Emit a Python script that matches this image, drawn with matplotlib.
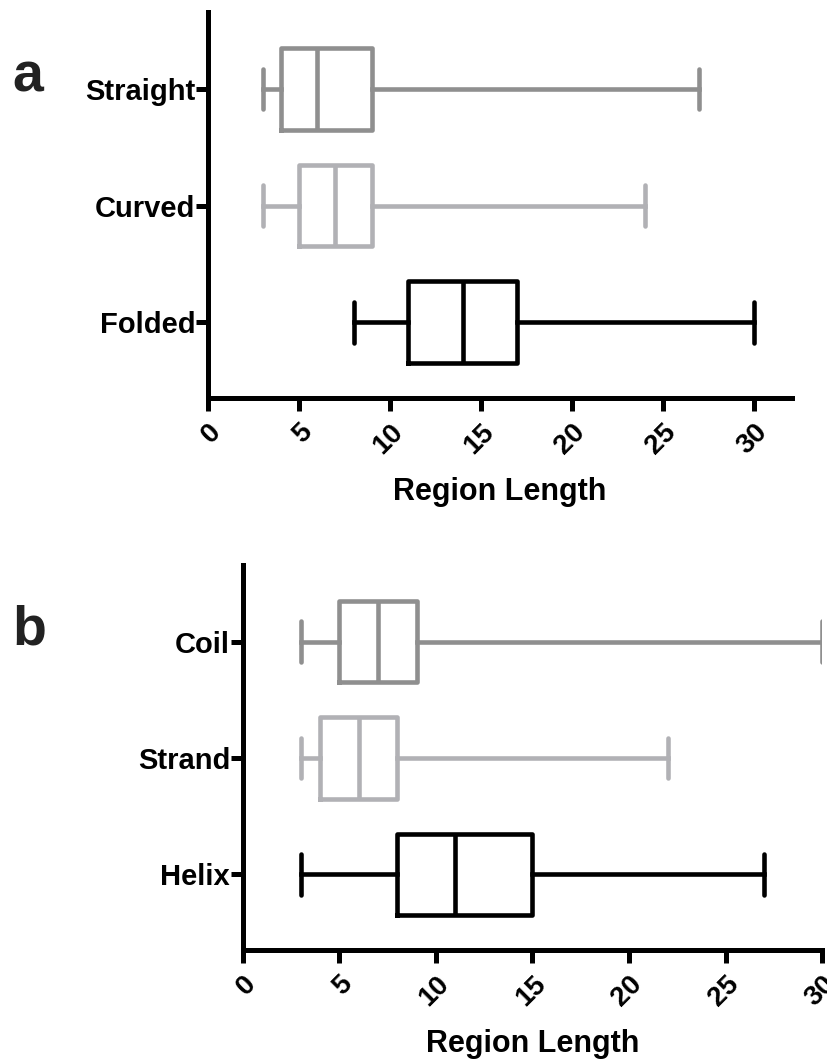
import matplotlib
matplotlib.use("Agg")
import matplotlib.pyplot as plt

plt.rcParams['font.family'] = ['Liberation Sans', 'DejaVu Sans']
plt.rcParams['font.weight'] = 'bold'

# panel a: shape of region
cats_a = ["Straight", "Curved", "Folded"]
low_a = [3, 3, 8]
q1_a = [4, 5, 11]
med_a = [6, 7, 14]
q3_a = [9, 9, 17]
high_a = [27, 24, 30]

# panel b: secondary structure
cats_b = ["Coil", "Strand", "Helix"]
low_b = [3, 3, 3]
q1_b = [5, 4, 8]
med_b = [7, 6, 11]
q3_b = [9, 8, 15]
high_b = [30, 22, 27]

colors = ["#8f8f8f", "#b1b1b5", "#000000"]
x_ticks = [0, 5, 10, 15, 20, 25, 30]


def draw_panel(ax, cats, low, q1, med, q3, high, xmax, letter):
    # order bottom -> top so the first category sits on top
    n = len(cats)
    positions = list(range(n))[::-1]
    for i, cat in enumerate(cats):
        stats = [dict(label=cat, whislo=low[i], q1=q1[i], med=med[i],
                      q3=q3[i], whishi=high[i])]
        c = colors[i]
        ax.bxp(stats, positions=[positions[i]], vert=False, widths=0.7,
               capwidths=0.35, showfliers=False, manage_ticks=False,
               boxprops=dict(color=c, linewidth=3.3),
               medianprops=dict(color=c, linewidth=3.3),
               whiskerprops=dict(color=c, linewidth=3.3),
               capprops=dict(color=c, linewidth=3.3, solid_capstyle='round'))
    ax.set_yticks(positions)
    ax.set_yticklabels(cats, fontsize=21, fontweight='bold')
    ax.set_ylim(-0.65, n - 1 + 0.66)
    ax.set_xlim(0, xmax)
    ax.set_xticks(x_ticks)
    ax.set_xticklabels([str(t) for t in x_ticks], fontsize=20,
                       fontweight='bold', rotation=45, ha='right',
                       va='top', rotation_mode='anchor')
    ax.set_xlabel("Region Length", fontsize=22, fontweight='bold', labelpad=13)
    for s in ['top', 'right']:
        ax.spines[s].set_visible(False)
    for s in ['left', 'bottom']:
        ax.spines[s].set_linewidth(3.6)
    ax.tick_params(axis='both', width=3.6, length=9, color='black')
    ax.tick_params(axis='y', pad=0)
    ax.tick_params(axis='x', pad=6)
    fig.text(0.015, ax.get_position().y1 - 0.075, letter, fontsize=40,
             fontweight='bold', color='#222222')


fig = plt.figure(figsize=(8.28, 10.63), dpi=100)
ax_a = fig.add_axes([0.2512, 0.6256, 0.7053, 0.3631])
ax_b = fig.add_axes([0.2931, 0.1063, 0.6999, 0.3622])

draw_panel(ax_a, cats_a, low_a, q1_a, med_a, q3_a, high_a, 32.1, "a")
draw_panel(ax_b, cats_b, low_b, q1_b, med_b, q3_b, high_b, 30, "b")

fig.savefig("out.png", dpi=100)
